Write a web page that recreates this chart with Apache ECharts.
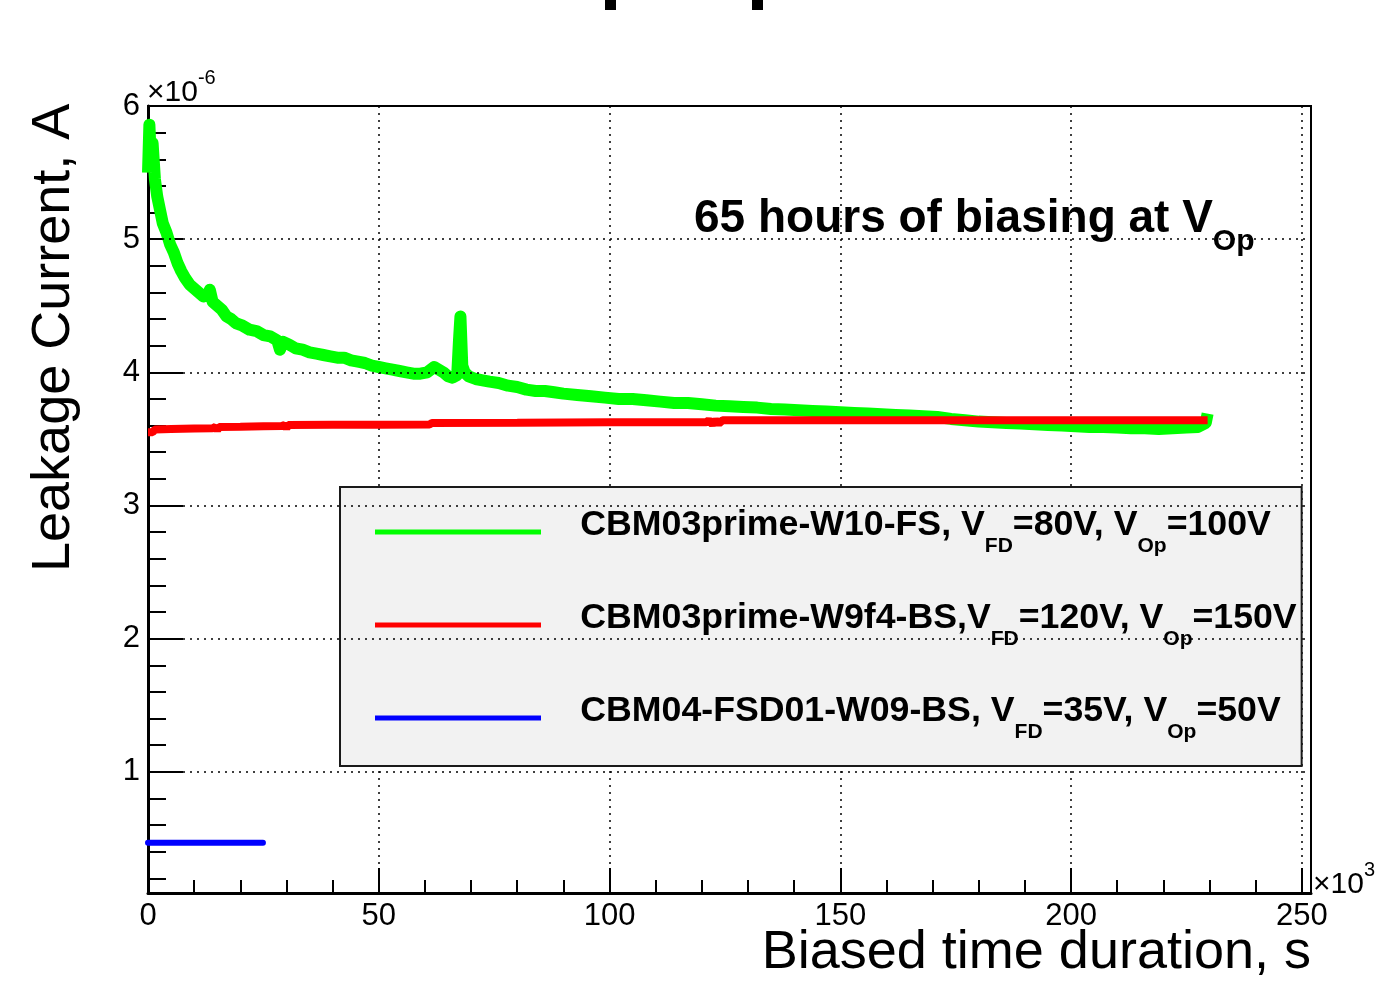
<!DOCTYPE html>
<html><head><meta charset="utf-8">
<script src="https://cdn.jsdelivr.net/npm/echarts@6/dist/echarts.min.js"></script>
<style>html,body{margin:0;padding:0;background:#fff}#c{width:1381px;height:982px}</style>
</head><body><div id="c"></div>
<script>
const FONT = '"Liberation Sans", Arial, Helvetica, sans-serif';

// ---- data (time in 10^3 s, current in 10^-6 A) ----
const greenTime = [0,0.3,0.6,1.0,1.5,2.0,2.6,3.2,4.0,4.8,5.6,6.4,7.2,8.0,9.0,10.0,11.0,12.0,13.0,13.4,14.0,15.0,16.0,17.0,18.0,19.0,20.5,22,23.5,25,26.5,28,28.6,29.2,30.5,32,33.5,35,36.5,38,39.5,41,42.5,44,45.5,47,48.5,50,51.5,53,54.5,56,57.5,59,60.5,62,63,64,65,66,67,67.4,67.7,68.1,68.6,69.5,71,72.5,74,76,78,80,82,84,86,88,90,93,96,99,102,105,108,111,114,117,120,123,126,129,132,135,138,141,144,147,150,153,156,159,162,165,168,171,174,177,180,183,186,189,192,195,198,201,204,207,210,213,216,219,222,225,227.5,229.2,229.6];
const greenCurrent = [5.50,5.86,5.62,5.72,5.45,5.32,5.22,5.12,5.05,4.96,4.90,4.82,4.76,4.71,4.66,4.63,4.60,4.57,4.58,4.62,4.53,4.50,4.47,4.42,4.40,4.37,4.35,4.32,4.31,4.28,4.27,4.24,4.17,4.23,4.21,4.18,4.17,4.15,4.14,4.13,4.12,4.11,4.11,4.09,4.08,4.07,4.05,4.04,4.03,4.02,4.01,4.00,3.99,3.99,4.00,4.04,4.02,4.00,3.97,3.96,3.98,4.25,4.42,4.05,4.00,3.97,3.95,3.94,3.93,3.92,3.90,3.89,3.87,3.86,3.86,3.85,3.84,3.83,3.82,3.81,3.80,3.80,3.79,3.78,3.77,3.77,3.76,3.75,3.745,3.74,3.735,3.725,3.72,3.715,3.71,3.705,3.70,3.695,3.69,3.685,3.68,3.675,3.67,3.665,3.65,3.64,3.63,3.625,3.62,3.615,3.61,3.605,3.60,3.595,3.59,3.59,3.585,3.58,3.58,3.575,3.58,3.585,3.59,3.62,3.69];

const redTime = [0,1,1.5,5,10,14,14.6,15.0,15.4,20,25,29,29.6,30.0,30.4,40,50,61,61.5,80,100,121,121.5,122.3,123,123.7,124.5,150,180,200,229.6];
const redCurrent = [3.55,3.55,3.57,3.575,3.578,3.58,3.59,3.565,3.59,3.592,3.595,3.597,3.605,3.58,3.605,3.606,3.607,3.608,3.62,3.622,3.625,3.626,3.64,3.61,3.64,3.615,3.64,3.64,3.64,3.64,3.64];

const blueTime = [0, 24.9];
const blueCurrent = [0.467, 0.467];

const seriesNames = ['CBM03prime-W10-FS, VFD=80V, VOp=100V', 'CBM03prime-W9f4-BS,VFD=120V, VOp=150V', 'CBM04-FSD01-W09-BS, VFD=35V, VOp=50V'];
const legendRich = [
  '{h| }{m0|CBM03prime-W10-FS, V}{s|FD}{m|=80V, V}{s|Op}{m|=100V}',
  '{h| }{m0|CBM03prime-W9f4-BS,V}{s|FD}{m|=120V, V}{s|Op}{m|=150V}',
  '{h| }{m0|CBM04-FSD01-W09-BS, V}{s|FD}{m|=35V, V}{s|Op}{m|=50V}'
];
const seriesColors = ['#00ff00', '#ff0000', '#0000ff'];

const xMajorLabels = [0, 50, 100, 150, 200, 250];
const xMinorTicks = [10,20,30,40,60,70,80,90,110,120,130,140,160,170,180,190,210,220,230,240];
const yMajorTicks = [1, 2, 3, 4, 5, 6];
const yMinorTicks = [0.2,0.4,0.6,0.8,1.2,1.4,1.6,1.8,2.2,2.4,2.6,2.8,3.2,3.4,3.6,3.8,4.2,4.4,4.6,4.8,5.2,5.4,5.6,5.8];
const yGridValues = [1, 2, 3, 4, 5];

const X_MIN = 0, X_MAX = 252, Y_MIN = 0.09, Y_MAX = 6;

const zip = (a, b) => a.map((v, i) => [v, b[i]]);
const dotted = { color: '#000', width: 1.5, type: [2, 5] };
const tickStyle = { color: '#000', width: 2 };

const chart = echarts.init(document.getElementById('c'), null, { renderer: 'canvas' });
chart.setOption({
  animation: false,
  backgroundColor: '#fff',
  grid: { left: 148, top: 106, width: 1163, height: 787, show: true, borderColor: '#000', borderWidth: 2, backgroundColor: 'transparent' },
  title: {
    text: '{a|65 hours of biasing at V}{b|Op}', left: 694, top: 196, padding: 0,
    textStyle: { rich: {
      a: { fontFamily: FONT, fontSize: 46, fontWeight: 'bold', color: '#000', lineHeight: 50, verticalAlign: 'top' },
      b: { fontFamily: FONT, fontSize: 30, fontWeight: 'bold', color: '#000', lineHeight: 30, verticalAlign: 'top', padding: [31, 0, 0, 0] }
    } }
  },
  legend: {
    orient: 'vertical', left: 340, top: 487, padding: [20, 5, 23, 35],
    itemGap: 43, itemWidth: 166, itemHeight: 5, icon: 'rect',
    backgroundColor: '#f2f2f2', borderColor: '#1a1a1a', borderWidth: 2, borderRadius: 0,
    selectedMode: false, data: seriesNames,
    formatter: n => legendRich[seriesNames.indexOf(n)],
    textStyle: { fontFamily: FONT, fontSize: 35.7, fontWeight: 'bold', color: '#000', rich: {
      h: { fontFamily: FONT, fontSize: 1, lineHeight: 50, verticalAlign: 'top', color: '#000' },
      m0: { fontFamily: FONT, fontSize: 35.7, fontWeight: 'bold', color: '#000', lineHeight: 40, verticalAlign: 'top', padding: [0, 0, 0, 34] },
      m: { fontFamily: FONT, fontSize: 35.7, fontWeight: 'bold', color: '#000', lineHeight: 40, verticalAlign: 'top' },
      s: { fontFamily: FONT, fontSize: 21, fontWeight: 'bold', color: '#000', lineHeight: 21, verticalAlign: 'bottom' }
    } }
  },
  xAxis: [{
    type: 'value', min: X_MIN, max: X_MAX, interval: 50, position: 'bottom',
    axisLine: { show: true, onZero: false, lineStyle: { color: '#000', width: 3 } },
    axisTick: { show: true, inside: true, length: 25, lineStyle: tickStyle },
    axisLabel: { show: true, margin: 8, fontFamily: FONT, fontSize: 31, color: '#000',
      formatter: v => (xMajorLabels.indexOf(v) >= 0 ? String(v) : '') },
    splitLine: { show: true, lineStyle: dotted }
  }, {
    type: 'value', min: X_MIN, max: X_MAX, position: 'bottom',
    axisLine: { show: false, onZero: false }, axisLabel: { show: false }, splitLine: { show: false },
    axisTick: { show: true, inside: true, length: 13, lineStyle: tickStyle, customValues: xMinorTicks }
  }],
  yAxis: [{
    type: 'value', min: Y_MIN, max: Y_MAX, position: 'left',
    axisLine: { show: true, onZero: false, lineStyle: { color: '#000', width: 3 } },
    axisTick: { show: true, inside: true, length: 35, lineStyle: tickStyle, customValues: yMajorTicks },
    axisLabel: { show: true, margin: 8, fontFamily: FONT, fontSize: 31, color: '#000', customValues: yMajorTicks },
    splitLine: { show: false }
  }, {
    type: 'value', min: Y_MIN, max: Y_MAX, position: 'left',
    axisLine: { show: false, onZero: false }, axisLabel: { show: false }, splitLine: { show: false },
    axisTick: { show: true, inside: true, length: 18, lineStyle: tickStyle, customValues: yMinorTicks }
  }],
  series: [{
    type: 'line', name: 'grid', data: [], xAxisIndex: 0, yAxisIndex: 0, z: 1, silent: true,
    markLine: { silent: true, symbol: 'none', label: { show: false }, lineStyle: dotted,
      data: yGridValues.map(v => ({ yAxis: v })) }
  }, {
    type: 'line', name: seriesNames[0], data: zip(greenTime, greenCurrent), showSymbol: false, symbol: 'none',
    itemStyle: { color: seriesColors[0] }, lineStyle: { color: seriesColors[0], width: 12, join: 'round' }, z: 3
  }, {
    type: 'line', name: seriesNames[1], data: zip(redTime, redCurrent), showSymbol: false, symbol: 'none',
    itemStyle: { color: seriesColors[1] }, lineStyle: { color: seriesColors[1], width: 8 }, z: 3
  }, {
    type: 'line', name: seriesNames[2], data: zip(blueTime, blueCurrent), showSymbol: false, symbol: 'none',
    itemStyle: { color: seriesColors[2] }, lineStyle: { color: seriesColors[2], width: 6, cap: 'round' }, z: 3
  }],
  graphic: [
    { type: 'text', x: 54, y: 572, rotation: Math.PI / 2,
      style: { text: 'Leakage Current, A', fontFamily: FONT, fontSize: 54, fill: '#000', align: 'left', verticalAlign: 'middle' } },
    { type: 'text', x: 1311, y: 953,
      style: { text: 'Biased time duration, s', fontFamily: FONT, fontSize: 54, fill: '#000', align: 'right', verticalAlign: 'middle' } },
    { type: 'text', x: 147, y: 68,
      style: { text: '{a|×10}{b|-6}', fill: '#000', rich: {
        a: { fontFamily: FONT, fontSize: 30, lineHeight: 30, verticalAlign: 'top', padding: [10, 0, 0, 0], fill: '#000' },
        b: { fontFamily: FONT, fontSize: 20, lineHeight: 20, verticalAlign: 'top', fill: '#000' } } } },
    { type: 'text', x: 1313, y: 860,
      style: { text: '{a|×10}{b|3}', fill: '#000', rich: {
        a: { fontFamily: FONT, fontSize: 30, lineHeight: 30, verticalAlign: 'top', padding: [10, 0, 0, 0], fill: '#000' },
        b: { fontFamily: FONT, fontSize: 20, lineHeight: 20, verticalAlign: 'top', fill: '#000' } } } },
    { type: 'rect', shape: { x: 605, y: 0, width: 11, height: 10 }, style: { fill: '#000' } },
    { type: 'rect', shape: { x: 752, y: 0, width: 11, height: 10 }, style: { fill: '#000' } }
  ]
});
</script>
</body></html>
